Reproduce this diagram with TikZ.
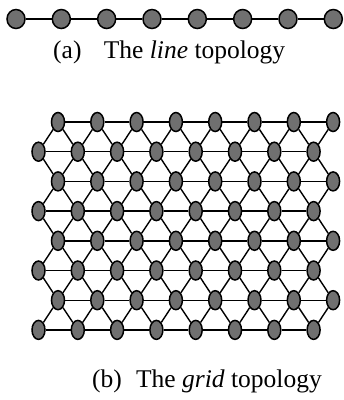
\documentclass[tikz,border=0pt]{standalone}
\usepackage{fontspec}
\setmainfont{Liberation Serif}
\usetikzlibrary{backgrounds,shapes.geometric}
\definecolor{nodegray}{RGB}{112,112,112}
\begin{document}
\begin{tikzpicture}[x=1pt,y=-1pt,
  gnode/.style={ellipse,draw=black,line width=1.5pt,fill=nodegray,minimum width=13pt,minimum height=19pt,inner sep=0pt},
  lnode/.style={ellipse,draw=black,line width=1.5pt,fill=nodegray,minimum width=18pt,minimum height=19pt,inner sep=0pt},
  gedge/.style={line width=1.4pt,black},
  ledge/.style={line width=1.9pt,black},
  captext/.style={font=\fontsize{25.5}{30}\selectfont,inner sep=0pt}
]
\useasboundingbox (0,0) rectangle (344,400);
% line topology
\foreach \i in {0,...,7} \node[lnode] (l\i) at ({16+45.33*\i},19) {};
% grid topology
\foreach \r in {0,...,7} {
  \foreach \k in {0,...,7} {
    \pgfmathsetmacro\xx{(mod(\r,2)==0 ? 58 : 38.5)+39.3*\k}
    \node[gnode] (g\r\k) at (\xx,{122+29.7*\r}) {};
  }
}
\begin{scope}[on background layer]
  \foreach \i [evaluate=\i as \j using int(\i+1)] in {0,...,6} \draw[ledge] (l\i) -- (l\j);
  \foreach \r in {0,...,7} {
    \foreach \k [evaluate=\k as \kn using int(\k+1)] in {0,...,6} \draw[gedge] (g\r\k) -- (g\r\kn);
  }
  \foreach \r [evaluate=\r as \rn using int(\r+1)] in {0,...,6} {
    \pgfmathtruncatemacro\ev{mod(\r,2)==0 ? \r : \rn}
    \pgfmathtruncatemacro\od{mod(\r,2)==0 ? \rn : \r}
    \foreach \k in {0,...,7} {
      \draw[gedge] (g\ev\k) -- (g\od\k);
      \ifnum\k<7
        \pgfmathtruncatemacro\kn{\k+1}
        \draw[gedge] (g\ev\k) -- (g\od\kn);
      \fi
    }
  }
\end{scope}
% captions
\node[captext,anchor=base west] (ca) at (53,58) {(a)\hspace{16pt} The \textit{line} topology};
\node[captext,anchor=base east] (cb) at (322,387) {(b)\hspace{8pt} The \textit{grid} topology};
\end{tikzpicture}
\end{document}
